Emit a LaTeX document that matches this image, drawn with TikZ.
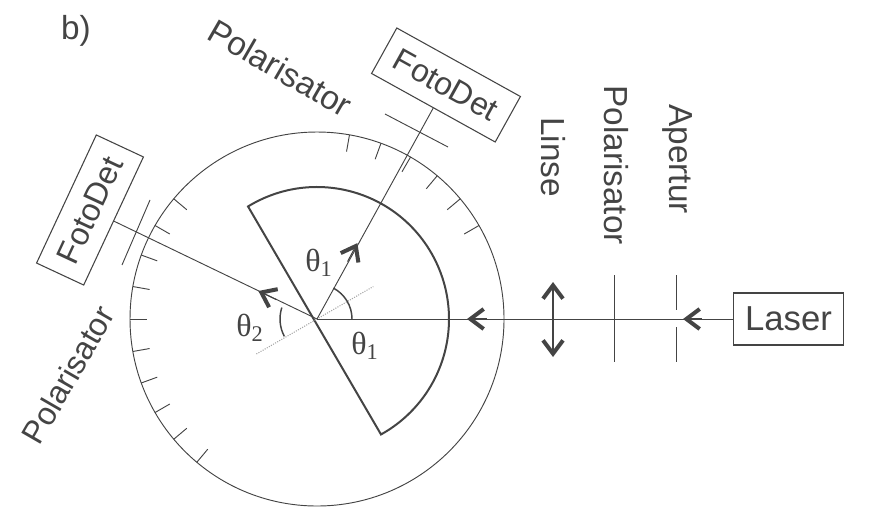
\documentclass[tikz,border=0pt]{standalone}
\usepackage{fontspec}
\setmainfont{Liberation Sans}
\newfontfamily\thetafont{Liberation Serif}
\usepackage{tikz}
\usetikzlibrary{
  arrows.meta,
  calc
}
\definecolor{InkGray}{HTML}{444444}
\tikzset{
  % Instrument box: thin outline, text inside
  inst/.style={
    rectangle, draw=InkGray, line width=0.8pt, fill=white,
    inner sep=0pt, align=center, font=\fontsize{24}{26}\selectfont, text=InkGray,
    minimum width=106pt, minimum height=39pt
  },
  % Free text beside the beam
  lbl/.style={font=\fontsize{25}{27}\selectfont, text=InkGray, inner sep=0pt},
  % Angle label
  ang/.style={font=\thetafont\fontsize{24}{26}\selectfont, text=InkGray, inner sep=0pt},
  % Thin optical line
  ray/.style={draw=InkGray, line width=0.7pt},
  % Open arrow head on a beam
  arr/.style={
    draw=InkGray, line width=0.8pt,
    -{Straight Barb[length=10pt,width=15pt,line width=3pt]}
  }
}
\begin{document}
\begin{tikzpicture}[x=1pt,y=-1pt,scale=0.75]
  \useasboundingbox (0,0) rectangle (871,531);

  \coordinate (center) at (317,319);

  % Goniometer circle with ticks
  \draw[ray] (center) circle[radius=187];
  \foreach \a in {30,40,50,60,70,80,140,150,160,170,180,190,200,210,220,230}{
    \draw[ray] ($(center)+(-\a:187)$) -- ($(center)+(-\a:170)$);
  }

  % Half cylinder
  \draw[draw=InkGray, line width=1.5pt] (center)+(-121.5:132) arc[start angle=-121.5, end angle=61, radius=132] -- cycle;

  % Normal
  \draw[draw=gray!70, densely dotted, line width=0.8pt] ($(center)+(150:70)$) -- ($(center)+(-30:65)$);

  % Instruments
  \node[inst, rotate=-29] (det1) at (446,85) {FotoDet};
  \node[inst, rotate=65] (det2) at (90,210) {FotoDet};
  \node[inst, minimum width=83pt, font=\fontsize{26}{28}\selectfont] (laser) at (788.5,319) {Laser};

  % Beams
  \draw[ray] (laser.west) -- (center);
  \draw[ray] (center) -- (det1.south);
  \draw[ray] (center) -- (det2.south);

  % Arrow heads
  \draw[arr] (702,319) -- (683,319);
  \draw[arr] (487,319) -- (467,319);
  \draw[arr] ($(center)+(-62:65)$) -- ($(center)+(-62:86)$);
  \draw[arr] ($(center)+(-154.5:45)$) -- ($(center)+(-154.5:65)$);

  % Lens and plates
  \draw[arr] (553,319) -- (553,282);
  \draw[arr] (553,319) -- (553,357);
  \draw[ray] (614,275) -- (614,362);
  \draw[ray] (676,275) -- (676,310);
  \draw[ray] (676,327) -- (676,362);

  % Polarisers in front of the detectors
  \draw[ray] (385,114) -- (448,147);
  \draw[ray] (150,200) -- (122,265);

  % Angle arcs
  \draw[draw=InkGray, line width=1.1pt] ($(center)+(35,0)$) arc[start angle=0, end angle=-62, radius=35];
  \draw[draw=InkGray, line width=1.1pt] ($(center)+(-162:37)$) arc[start angle=-162, end angle=-208, radius=37];

  % Labels
  \node[lbl] (bmark) at (76,31) {b)};
  \node[lbl, rotate=-30] (pol1) at (280,68) {Polarisator};
  \node[lbl, rotate=60, font=\fontsize{24}{26}\selectfont] (pol2) at (68,375) {Polarisator};
  \node[lbl, rotate=-90] (linse) at (553,157) {Linse};
  \node[lbl, rotate=-90] (pol3) at (616,165) {Polarisator};
  \node[lbl, rotate=-90] (apertur) at (677,159) {Apertur};
  \node[ang] (th1) at (319,263) {θ\textsubscript{1}};
  \node[ang] (th2) at (250,328) {θ\textsubscript{2}};
  \node[ang] (th3) at (365,346) {θ\textsubscript{1}};
\end{tikzpicture}
\end{document}
